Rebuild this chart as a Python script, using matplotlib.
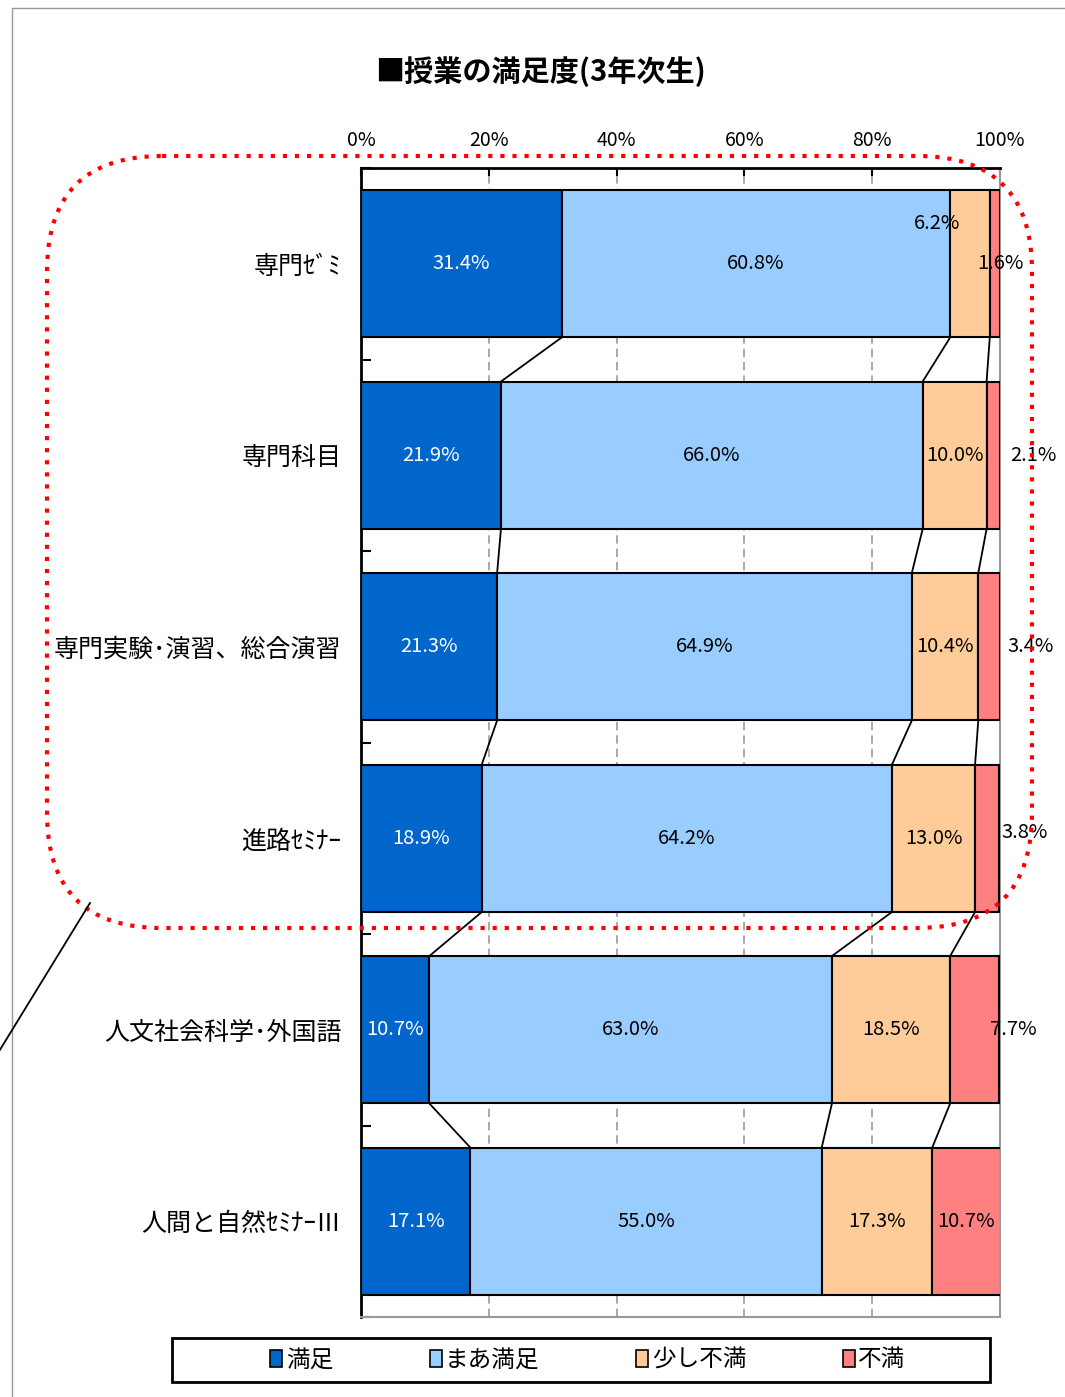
import matplotlib
matplotlib.use("Agg")
import matplotlib.pyplot as plt
import numpy as np
from matplotlib.patches import FancyBboxPatch, Rectangle, Patch

plt.rcParams['font.family'] = ['Noto Sans CJK JP', 'DejaVu Sans']

# データ（%）
categories = ["専門ｾﾞﾐ", "専門科目", "専門実験･演習、総合演習", "進路ｾﾐﾅｰ",
              "人文社会科学･外国語", "人間と自然ｾﾐﾅｰⅢ"]
series_names = ["満足", "まあ満足", "少し不満", "不満"]
manzoku = [31.4, 21.9, 21.3, 18.9, 10.7, 17.1]
maa_manzoku = [60.8, 66.0, 64.9, 64.2, 63.0, 55.0]
sukoshi_fuman = [6.2, 10.0, 10.4, 13.0, 18.5, 17.3]
fuman = [1.6, 2.1, 3.4, 3.8, 7.7, 10.7]
xticks = [0, 20, 40, 60, 80, 100]

colors = ["#0066CC", "#99CCFF", "#FFCC99", "#FF8080"]
text_colors = ["white", "black", "black", "black"]

values = np.array([manzoku, maa_manzoku, sukoshi_fuman, fuman])
n = len(categories)
y = np.arange(n)
h = 0.77

# 小さい値のラベル位置の調整 (row, col) -> (dx %, dy カテゴリ単位)
label_shift = {(0, 2): (-5.2, -0.21), (0, 3): (0.8, 0.0),
               (1, 3): (6.2, 0.0), (2, 3): (6.5, 0.0),
               (3, 3): (5.9, -0.03), (4, 3): (6.1, 0.0)}

fig = plt.figure(figsize=(10.65, 13.97), dpi=100)
ax = fig.add_axes([361/1065, 1-1317/1397, 639/1065, 1149/1397])

left = np.zeros(n)
for k in range(4):
    ax.barh(y, values[k], left=left, height=h, color=colors[k],
            edgecolor="black", linewidth=1.5, label=series_names[k], zorder=3)
    for i in range(n):
        dx, dy = label_shift.get((i, k), (0, 0))
        ax.text(left[i] + values[k][i]/2 + dx, y[i] + dy, f"{values[k][i]:.1f}%",
                ha="center", va="center", fontsize=14.5, color=text_colors[k], zorder=5)
    left = left + values[k]

# 区分線
cum = np.cumsum(values, axis=0)
for i in range(n-1):
    for k in range(3):
        ax.plot([cum[k][i], cum[k][i+1]], [y[i] + h/2, y[i+1] - h/2],
                color="black", linewidth=1.3, zorder=4)

ax.set_xlim(0, 100)
ax.set_ylim(n - 0.5, -0.5)
ax.set_xticks(xticks)
ax.set_xticklabels([f"{t}%" for t in xticks], fontsize=14)
ax.xaxis.tick_top()
ax.tick_params(axis="x", direction="in", length=6, width=1.5, pad=12, top=True, bottom=False)
ax.set_yticks(y)
ax.set_yticklabels(categories, fontsize=18)
ax.tick_params(axis="y", which="major", length=0, pad=14)
ax.set_yticks(np.arange(n + 1) - 0.5, minor=True)
ax.tick_params(axis="y", which="minor", direction="in", length=7, width=1.5)

for g in xticks[1:-1]:
    ax.axvline(g, color="#999999", linestyle=(0, (5, 3)), linewidth=1.2, zorder=1)

ax.spines["top"].set_linewidth(2)
ax.spines["left"].set_linewidth(2)
ax.spines["right"].set_color("#999999")
ax.spines["bottom"].set_color("#999999")
ax.spines["right"].set_linewidth(1.5)
ax.spines["bottom"].set_linewidth(1.5)

fig.text(540/1065, 1-72/1397, "■授業の満足度(3年次生)", ha="center", va="center",
         fontsize=21, fontweight="bold")

# 凡例
handles = [Patch(facecolor=c, edgecolor="black", linewidth=1.2) for c in colors]
fig.legend(handles, series_names, loc="center", bbox_to_anchor=(588/1065, 1-1360/1397),
           ncol=4, frameon=False, fontsize=17, handlelength=0.5, handleheight=0.75,
           handletextpad=0.15, columnspacing=4.1)

# 注記用のオーバーレイ（ピクセル座標）
ov = fig.add_axes([0, 0, 1, 1], zorder=10)
ov.set_xlim(0, 1065)
ov.set_ylim(1397, 0)
ov.axis("off")
ov.patch.set_alpha(0)
ov.plot([12, 12, 1065], [1397, 8, 8], color="#999999", linewidth=1)
ov.add_patch(Rectangle((172, 1338), 818, 44, facecolor="none", edgecolor="black", linewidth=2))
ov.add_patch(FancyBboxPatch((47, 156), 985, 772, boxstyle="round,pad=0,rounding_size=115",
                            facecolor="none", edgecolor="#FF0000", linewidth=3,
                            linestyle=(0, (1, 1.9))))
ov.plot([90, -2], [903, 1053], color="black", linewidth=1.3)

fig.savefig("out.png", dpi=100)
